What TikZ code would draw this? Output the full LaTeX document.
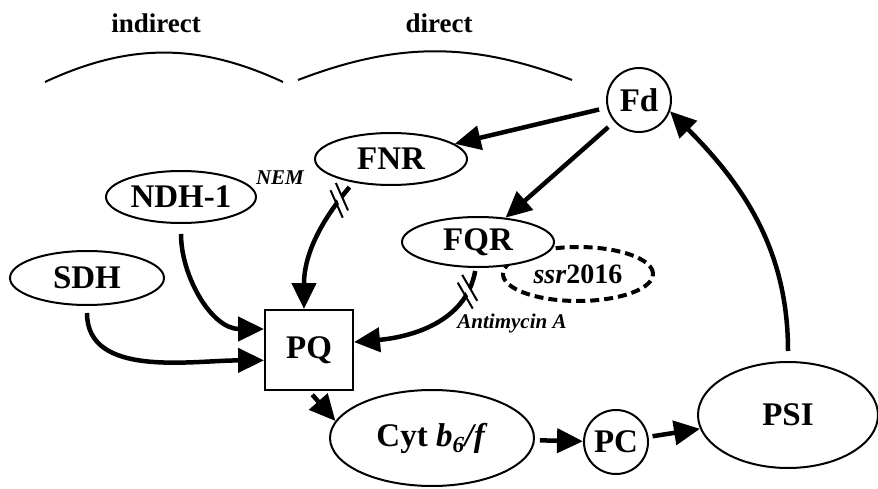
\documentclass[tikz,border=0pt]{standalone}
\usepackage{fontspec}
\setmainfont{Liberation Serif}
\usetikzlibrary{arrows.meta,shapes.geometric,decorations.markings}

\tikzset{
  eticheta/.style={font=\fontsize{27}{31}\selectfont\bfseries},
  nota/.style={font=\fontsize{21}{25}\selectfont\bfseries\itshape},
  enzima/.style={ellipse,draw,line width=2pt,fill=white,inner sep=0pt,
    font=\fontsize{33}{38}\selectfont\bfseries},
  purtator/.style={circle,draw,line width=2pt,fill=white,inner sep=0pt,
    minimum size=64pt,font=\fontsize{33}{38}\selectfont\bfseries},
  flux/.style={line width=4.5pt,-{Triangle[length=26pt,width=24pt]}},
  inhibat/.style={postaction={decorate,decoration={markings,
    mark=at position #1 with {
      \fill[white] (-9pt,-7pt) -- (-3pt,-7pt) -- (5pt,7pt) -- (-1pt,7pt) -- cycle;
      \draw[line width=2pt,-,shorten <=0pt] (-13pt,-13pt) -- (2pt,13pt);
      \draw[line width=2pt,-,shorten <=0pt] (-4pt,-13pt) -- (11pt,13pt);
    }}}}
}

\begin{document}
\begin{tikzpicture}[x=1pt,y=1pt]
  \useasboundingbox (0,0) rectangle (878,488);

  % acolade sus
  \node[eticheta] (indirect) at (156,465) {indirect};
  \node[eticheta] (direct) at (439,465) {direct};
  \draw[line width=2pt] (45,406) to[bend left=25] (283,406);
  \draw[line width=2pt] (298,408) to[bend left=21] (572,408);

  % componente
  \node[purtator] (Fd) at (639,388) {Fd};
  \node[enzima,minimum width=152pt,minimum height=52pt] (FNR) at (391,329) {FNR};
  \node[enzima,minimum width=150pt,minimum height=52pt] (NDH) at (181,291) {NDH-1};
  \node[enzima,minimum width=154pt,minimum height=54pt] (SDH) at (87,210) {SDH};
  \node[ellipse,draw,line width=4pt,dash pattern=on 9pt off 5pt,inner sep=0pt,
    minimum width=150pt,minimum height=54pt,
    font=\fontsize{28}{32}\selectfont\bfseries] (ssr) at (578,214) {\textit{ssr}2016};
  \node[enzima,minimum width=152pt,minimum height=50pt] (FQR) at (478,246) {FQR};
  \node[draw,line width=2pt,minimum width=88pt,minimum height=80pt,
    font=\fontsize{33}{38}\selectfont\bfseries] (PQ) at (309,138) {PQ};
  \node[enzima,minimum width=204pt,minimum height=96pt] (Cyt) at (432,50)
    {Cyt \textit{b}\textsubscript{\textit{6}}\textit{/f}};
  \node[purtator] (PC) at (616,46) {PC};
  \node[enzima,minimum width=180pt,minimum height=106pt] (PSI) at (788,73) {PSI};

  % inhibitori
  \node[nota] (NEM) at (280,310) {NEM};
  \node[nota] (antimycin) at (512,165) {Antimycin A};

  % sageti
  \draw[flux,shorten <=8pt] (Fd) -- (FNR);
  \draw[flux,shorten <=8pt] (Fd) -- (FQR);
  \draw[flux,shorten <=10pt] (PSI.north) to[out=90,in=-45] (Fd.-20);
  \draw[flux,shorten <=10pt] (NDH.south) to[out=-90,in=180] (PQ.155);
  \draw[flux,shorten <=7pt] (SDH.south) to[out=-90,in=180] (PQ.193);
  \draw[flux,inhibat=0.17,shorten <=6pt] (FNR.212) to[out=-130,in=90] (PQ.97);
  \draw[flux,inhibat=0.17,shorten <=3pt] (FQR.265) to[out=-100,in=5] (PQ.10);
  \draw[flux,shorten <=5pt] (PQ.south) -- (Cyt.170);
  \draw[flux,shorten <=5pt] (Cyt) -- (PC);
  \draw[flux,shorten <=4pt] (PC) -- (PSI);
\end{tikzpicture}
\end{document}
